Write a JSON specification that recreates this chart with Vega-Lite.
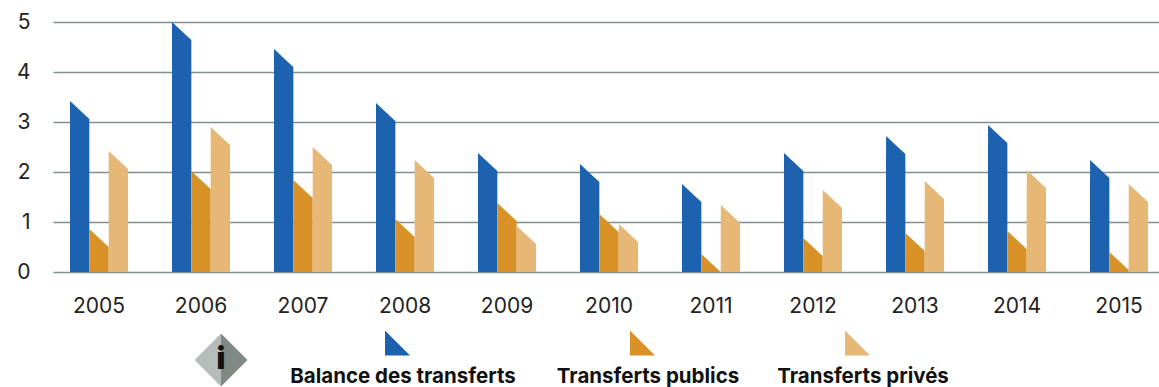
{
  "$schema": "https://vega.github.io/schema/vega-lite/v6.json",
  "padding": {"left": 16, "top": 11, "right": 0, "bottom": 0},
  "background": "#ffffff",
  "bounds": "flush",
  "spacing": 50,
  "config": {
    "font": "Inter",
    "view": {"stroke": null}
  },
  "datasets": {
    "transferts": [
      {"annee": "2005", "serie": "Balance des transferts", "valeur": 3.42},
      {"annee": "2006", "serie": "Balance des transferts", "valeur": 5.0},
      {"annee": "2007", "serie": "Balance des transferts", "valeur": 4.46},
      {"annee": "2008", "serie": "Balance des transferts", "valeur": 3.38},
      {"annee": "2009", "serie": "Balance des transferts", "valeur": 2.38},
      {"annee": "2010", "serie": "Balance des transferts", "valeur": 2.16},
      {"annee": "2011", "serie": "Balance des transferts", "valeur": 1.76},
      {"annee": "2012", "serie": "Balance des transferts", "valeur": 2.38},
      {"annee": "2013", "serie": "Balance des transferts", "valeur": 2.72},
      {"annee": "2014", "serie": "Balance des transferts", "valeur": 2.94},
      {"annee": "2015", "serie": "Balance des transferts", "valeur": 2.24},
      {"annee": "2005", "serie": "Transferts publics", "valeur": 0.86},
      {"annee": "2006", "serie": "Transferts publics", "valeur": 2.02},
      {"annee": "2007", "serie": "Transferts publics", "valeur": 1.84},
      {"annee": "2008", "serie": "Transferts publics", "valeur": 1.06},
      {"annee": "2009", "serie": "Transferts publics", "valeur": 1.38},
      {"annee": "2010", "serie": "Transferts publics", "valeur": 1.16},
      {"annee": "2011", "serie": "Transferts publics", "valeur": 0.36},
      {"annee": "2012", "serie": "Transferts publics", "valeur": 0.68},
      {"annee": "2013", "serie": "Transferts publics", "valeur": 0.78},
      {"annee": "2014", "serie": "Transferts publics", "valeur": 0.82},
      {"annee": "2015", "serie": "Transferts publics", "valeur": 0.4},
      {"annee": "2005", "serie": "Transferts privés", "valeur": 2.42},
      {"annee": "2006", "serie": "Transferts privés", "valeur": 2.9},
      {"annee": "2007", "serie": "Transferts privés", "valeur": 2.5},
      {"annee": "2008", "serie": "Transferts privés", "valeur": 2.24},
      {"annee": "2009", "serie": "Transferts privés", "valeur": 0.92},
      {"annee": "2010", "serie": "Transferts privés", "valeur": 0.96},
      {"annee": "2011", "serie": "Transferts privés", "valeur": 1.34},
      {"annee": "2012", "serie": "Transferts privés", "valeur": 1.64},
      {"annee": "2013", "serie": "Transferts privés", "valeur": 1.82},
      {"annee": "2014", "serie": "Transferts privés", "valeur": 2.04},
      {"annee": "2015", "serie": "Transferts privés", "valeur": 1.76}
    ],
    "legende": [
      {"serie": "Balance des transferts", "rang": 1},
      {"serie": "Transferts publics", "rang": 2},
      {"serie": "Transferts privés", "rang": 3}
    ],
    "icone": [
      {"signe": "i", "rang": 0}
    ]
  },
  "vconcat": [
    {
      "width": 1106,
      "height": 250,
      "data": {"name": "transferts"},
      "encoding": {
        "x": {
          "field": "annee",
          "type": "nominal",
          "title": null,
          "scale": {"paddingInner": 0.431, "paddingOuter": 0.137, "align": 0.608},
          "axis": {
            "labelAngle": 0,
            "domain": false,
            "ticks": false,
            "labelPadding": 23,
            "labelFontSize": 21,
            "labelColor": "#222222",
            "labelFont": "Inter"
          }
        },
        "xOffset": {
          "field": "serie",
          "type": "nominal",
          "scale": {"domain": ["Balance des transferts", "Transferts publics", "Transferts privés"], "paddingInner": 0, "paddingOuter": 0}
        },
        "color": {
          "field": "serie",
          "type": "nominal",
          "legend": null,
          "scale": {
            "domain": ["Balance des transferts", "Transferts publics", "Transferts privés"],
            "range": ["#1d62ae", "#d99227", "#e7b775"]
          }
        }
      },
      "layer": [
        {
          "mark": {"type": "bar", "yOffset": 18, "stroke": null},
          "encoding": {
            "y": {
              "field": "valeur",
              "type": "quantitative",
              "title": null,
              "scale": {"domain": [0, 5], "nice": false},
              "axis": {
                "values": [0, 1, 2, 3, 4, 5],
                "domain": false,
                "ticks": false,
                "grid": true,
                "gridColor": "#7f918f",
                "gridWidth": 1.3,
                "labelPadding": 23,
                "labelFontSize": 21,
                "labelColor": "#222222",
                "labelFont": "Inter"
              }
            },
            "y2": {"datum": 0}
          }
        },
        {
          "mark": {"type": "point", "filled": true, "opacity": 1, "strokeWidth": 0, "size": 372, "shape": "M-1,0 L-1,1.87 L1,1.87 Z"},
          "encoding": {
            "y": {"field": "valeur", "type": "quantitative"}
          }
        }
      ]
    },
    {
      "width": 1106,
      "height": 65,
      "encoding": {
        "x": {
          "field": "rang",
          "type": "quantitative",
          "axis": null,
          "scale": {"domain": [0, 1, 2, 3], "range": [168, 350, 595, 810]}
        },
        "y": {
          "datum": "label",
          "type": "nominal",
          "axis": null,
          "scale": {"type": "point", "domain": ["marker", "icon", "label"], "range": [21, 55], "padding": 0}
        }
      },
      "layer": [
        {
          "data": {"name": "legende"},
          "mark": {"type": "point", "filled": true, "opacity": 1, "strokeWidth": 0, "size": 625, "xOffset": -5.5, "shape": "M-1,-1 L-1,1 L1,1 Z"},
          "encoding": {
            "y": {"datum": "marker", "type": "nominal"},
            "color": {
              "field": "serie",
              "type": "nominal",
              "legend": null,
              "scale": {
                "domain": ["Balance des transferts", "Transferts publics", "Transferts privés"],
                "range": ["#1d62ae", "#d99227", "#e7b775"]
              }
            }
          }
        },
        {
          "data": {"name": "legende"},
          "mark": {"type": "text", "fontSize": 20.5, "fontWeight": "bold", "color": "#111111", "font": "Inter"},
          "encoding": {
            "y": {"datum": "label", "type": "nominal"},
            "text": {"field": "serie", "type": "nominal"}
          }
        },
        {
          "data": {"name": "icone"},
          "mark": {"type": "point", "filled": true, "opacity": 1, "strokeWidth": 0, "size": 2809, "shape": "M0,-1 L0,1 L-1,0 Z", "color": "#b5bcb9"},
          "encoding": {"y": {"datum": "icon", "type": "nominal"}}
        },
        {
          "data": {"name": "icone"},
          "mark": {"type": "point", "filled": true, "opacity": 1, "strokeWidth": 0, "size": 2809, "shape": "M0,-1 L0,1 L1,0 Z", "color": "#7f8a84"},
          "encoding": {"y": {"datum": "icon", "type": "nominal"}}
        },
        {
          "data": {"name": "icone"},
          "mark": {"type": "text", "fontSize": 30, "fontWeight": 900, "color": "#111111", "font": "Inter"},
          "encoding": {
            "y": {"datum": "icon", "type": "nominal"},
            "text": {"field": "signe", "type": "nominal"}
          }
        }
      ]
    }
  ]
}
